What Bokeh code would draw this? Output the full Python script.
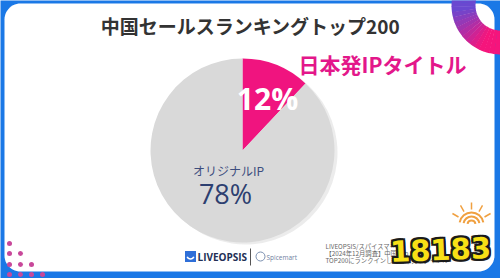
import numpy as np
from bokeh.plotting import figure
from bokeh.models import Range1d
from bokeh.core.properties import value
from bokeh.embed import file_html
from bokeh.resources import INLINE

# ---- data ----
title_text = "中国セールスランキングトップ200"
categories = ["日本発IPタイトル", "オリジナルIP"]
shares = [12, 88]
share_labels = ["12%", "78%"]
slice_colors = ["#f0147f", "#d9d9d9"]
source_lines = ["LIVEOPSIS/スパイスマート",
                "【2024年12月調査】中国App Store",
                "TOP200にランクインした日本発IPタイトル"]

W, H = 500, 278
JP = value("Noto Sans CJK JP")
OS = value("Open Sans")


def Y(v):
    return H - v


def rrect(x0, y0, x1, y1, r, n=14):
    xs, ys = [], []
    corners = [(x1 - r, y1 - r, 0), (x0 + r, y1 - r, 90),
               (x0 + r, y0 + r, 180), (x1 - r, y0 + r, 270)]
    for cx, cy, a0 in corners:
        t = np.radians(np.linspace(a0, a0 + 90, n))
        xs += list(cx + r * np.cos(t))
        ys += list(cy + r * np.sin(t))
    return xs, ys


def mix(c1, c2, t):
    a = [int(c1[i:i + 2], 16) for i in (1, 3, 5)]
    b = [int(c2[i:i + 2], 16) for i in (1, 3, 5)]
    return "#%02x%02x%02x" % tuple(int(round(a[k] + (b[k] - a[k]) * t)) for k in range(3))


p = figure(width=W, height=H, x_range=Range1d(0, W), y_range=Range1d(0, H),
           output_backend="svg", toolbar_location=None, min_border=0)
p.axis.visible = False
p.grid.visible = False
p.outline_line_color = None
p.background_fill_color = "#1a78e6"
p.border_fill_color = "#1a78e6"

# card
cx, cy = rrect(4, Y(271), 494, Y(3), 16)
p.patch(cx, cy, fill_color="white", line_color=None)

# decorative ring top-right
n = 24
angs = np.linspace(150, 300, n + 1)
for i in range(n):
    a_mid = (angs[i] + angs[i + 1]) / 2
    t = min(max((a_mid - 185) / 60, 0), 1)
    col = mix("#6a48d0", "#f5157c", t)
    p.annular_wedge(x=500, y=Y(5), inner_radius=25, outer_radius=49,
                    start_angle=np.radians(angs[i]), end_angle=np.radians(angs[i + 1]) + 0.01,
                    fill_color=col, line_color=None)

# pink dots bottom-left
dx, dy = [], []
for r, yy in enumerate([243, 253, 264, 274]):
    for c in range(r + 1):
        dx.append(9 + 11 * c)
        dy.append(Y(yy))
p.scatter(dx, dy, size=5, fill_color="#c8489a", line_color=None)

# pie
total = float(sum(shares))
ang = np.array(shares) / total * 2 * np.pi
ends = np.cumsum(ang)
starts = ends - ang
p.wedge(x=245, y=Y(152), radius=92, start_angle=np.pi / 2 - ends, end_angle=np.pi / 2 - starts,
        fill_color="#c8c8c8", fill_alpha=0.35, line_color=None)
p.wedge(x=242, y=Y(150), radius=92, start_angle=np.pi / 2 - ends, end_angle=np.pi / 2 - starts,
        fill_color=slice_colors, line_color=None)

# texts
p.text(x=[250], y=[Y(25)], text=[title_text], text_font=JP, text_font_size="19px",
       text_font_style="bold", text_color="#333333", text_align="center", text_baseline="middle")
p.text(x=[382], y=[Y(63)], text=[categories[0]], text_font=JP, text_font_size="21px",
       text_font_style="bold", text_color="#e3178a", text_align="center", text_baseline="middle")
p.text(x=[267], y=[Y(98)], text=[share_labels[0]], text_font=OS, text_font_size="30px",
       text_font_style="bold", text_color="white", text_align="center", text_baseline="middle")
p.text(x=[228], y=[Y(170)], text=[categories[1]], text_font=JP, text_font_size="12px",
       text_color="#3d4e7e", text_align="center", text_baseline="middle")
p.text(x=[225], y=[Y(193)], text=[share_labels[1]], text_font=OS, text_font_size="27px",
       text_color="#2d3f70", text_align="center", text_baseline="middle")

# footer logos
p.rect(x=[190], y=[Y(256)], width=11, height=11, fill_color="#2f6fd8", line_color=None)
p.arc(x=[190], y=[Y(256) + 1], radius=3.5, start_angle=np.radians(200), end_angle=np.radians(340),
      line_color="white", line_width=1.5)
p.text(x=[197], y=[Y(256)], text=["LIVEOPSIS"], text_font=OS, text_font_size="10px",
       text_font_style="bold", text_color="#232f55", text_align="left", text_baseline="middle")
p.segment(x0=[250], y0=[Y(248)], x1=[250], y1=[Y(265)], line_color="#555555", line_width=1)
p.circle(x=[260], y=[Y(256)], radius=4.5, fill_color=None, line_color="#7a8fb0", line_width=1)
p.text(x=[266], y=[Y(257)], text=["Spicemart"], text_font=OS, text_font_size="6.5px",
       text_color="#6f7f9f", text_align="left", text_baseline="middle")

for i, line in enumerate(source_lines):
    p.text(x=[325], y=[Y(246 + 7 * i)], text=[line], text_font=JP, text_font_size="6.3px",
           text_color="#666666", text_align="left", text_baseline="middle")

# watermark sun
for r in [4, 8, 12]:
    p.arc(x=[471], y=[Y(224)], radius=r, start_angle=np.radians(10), end_angle=np.radians(170),
          line_color="#f0a040", line_width=2)
for a in [30, 60, 90, 120, 150]:
    t = np.radians(a)
    p.segment(x0=[471 + 15 * np.cos(t)], y0=[Y(224) + 15 * np.sin(t)],
              x1=[471 + 22 * np.cos(t)], y1=[Y(224) + 22 * np.sin(t)],
              line_color="#f0a040", line_width=1.5)

# watermark text
wm_x, wm_y = 440, Y(249)
for ox in (-2, 0, 2):
    for oy in (-2, 0, 2):
        if ox == 0 and oy == 0:
            continue
        p.text(x=[wm_x + ox], y=[wm_y + oy], text=["18183"], text_font=value("DejaVu Sans"),
               text_font_size="29px", text_font_style="bold", text_color="#1a1a1a",
               text_align="center", text_baseline="middle", angle=0.04)
p.text(x=[wm_x], y=[wm_y], text=["18183"], text_font=value("DejaVu Sans"),
       text_font_size="29px", text_font_style="bold", text_color="#f8e016",
       text_align="center", text_baseline="middle", angle=0.04)

open("out.html", "w").write(file_html(p, INLINE))
